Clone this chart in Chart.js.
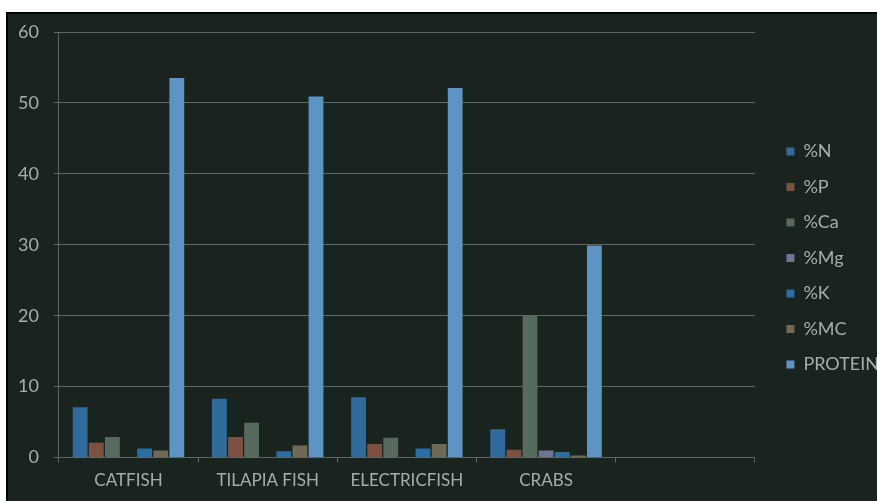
<!DOCTYPE html>
<html>
<head>
<meta charset="utf-8">
<script src="https://cdn.jsdelivr.net/npm/chart.js@4.4.1/dist/chart.umd.min.js"></script>
<style>
  html, body { margin: 0; padding: 0; background: #ffffff; }
  #wrap { position: absolute; left: 6px; top: 12px; width: 871px; height: 489px;
          border-left: 2px solid #000; border-top: 2px solid #000; box-sizing: border-box;
          background: #19241f; }
  canvas { display: block; }
</style>
</head>
<body>
<div id="wrap"><canvas id="canvas" width="869" height="487"></canvas></div>
<script>
// categories (last slot is empty in the original)
var categories = ["CATFISH", "TILAPIA FISH", "ELECTRICFISH", "CRABS", ""];

var nitrogen   = [7.1, 8.3, 8.5, 4.0, null];
var phosphorus = [2.1, 2.9, 1.9, 1.1, null];
var calcium    = [2.9, 4.9, 2.8, 20.1, null];
var magnesium  = [0, 0, 0, 1.0, null];
var potassium  = [1.3, 0.9, 1.3, 0.8, null];
var moisture   = [1.0, 1.7, 1.9, 0.3, null];
var protein    = [53.5, 50.9, 52.1, 29.9, null];

var yTicks = [0, 10, 20, 30, 40, 50, 60];

var textColor = "#a3b0aa";
var gridColor = "#5c6863";

function ds(label, data, color) {
  return {
    label: label,
    data: data,
    backgroundColor: color,
    borderWidth: 0,
    categoryPercentage: 0.81,
    barPercentage: 0.92
  };
}

var ctx = document.getElementById("canvas").getContext("2d");

var chart = new Chart(ctx, {
  type: 'bar',
  data: {
    labels: categories,
    datasets: [
      ds("%N", nitrogen, "#2f6c9c"),
      ds("%P", phosphorus, "#7d5140"),
      ds("%Ca", calcium, "#566b5d"),
      ds("%Mg", magnesium, "#6f7590"),
      ds("%K", potassium, "#2a6da4"),
      ds("%MC", moisture, "#6f6a55"),
      ds("PROTEIN", protein, "#5e94c4")
    ]
  },
  options: {
    responsive: false,
    animation: false,
    layout: { padding: { top: 3, left: -5, right: -12, bottom: 2 } },
    plugins: {
      legend: {
        position: 'right',
        labels: {
          color: textColor,
          boxWidth: 8,
          boxHeight: 8,
          padding: 17.5,
          font: { family: "Lato", size: 18 }
        }
      },
      tooltip: { enabled: false }
    },
    scales: {
      x: {
        offset: true,
        grid: {
          display: true,
          drawOnChartArea: false,
          drawTicks: true,
          tickLength: 5,
          color: gridColor,
          offset: true
        },
        border: { display: true, color: gridColor },
        ticks: { color: textColor, padding: 8, font: { family: "Lato", size: 17 } }
      },
      y: {
        min: 0,
        max: 60,
        afterBuildTicks: function (scale) {
          scale.ticks = yTicks.map(function (v) { return { value: v }; });
        },
        afterFit: function (scale) { scale.paddingTop = 18; },
        grid: { color: gridColor, tickLength: 5, lineWidth: 1 },
        border: { display: true, color: gridColor },
        ticks: { color: textColor, padding: 15, font: { family: "Lato", size: 18 } }
      },
      gap: {
        position: 'right',
        display: true,
        grid: { display: false },
        border: { display: false },
        ticks: { display: false },
        afterFit: function (scale) { scale.width = 14; }
      }
    }
  }
});
</script>
</body>
</html>
